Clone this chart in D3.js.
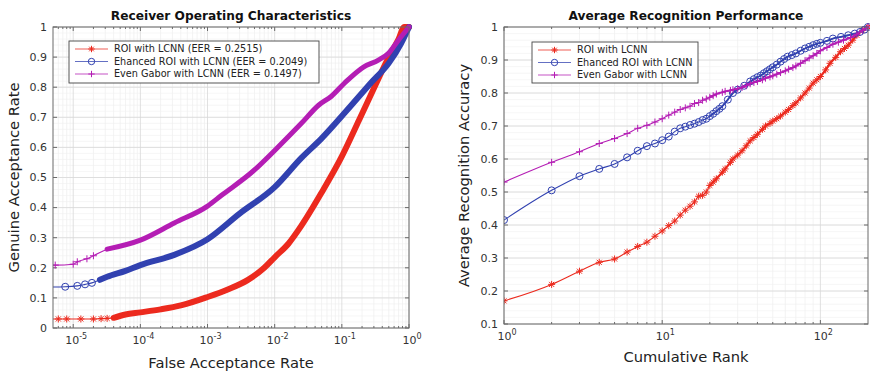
<!DOCTYPE html>
<html lang="en">
<head>
<meta charset="UTF-8">
<title>ROC and recognition performance</title>
<style>
  body { margin: 0; background: #fff; }
  svg { font-family: "DejaVu Sans", sans-serif; }
</style>
</head>
<body>
<div id="graphic"></div>
<script src="https://cdn.jsdelivr.net/npm/d3@7"></script>
<script>
// ROC curves, [false acceptance rate, genuine acceptance rate]
var rocRoi = [[4e-6,0.03],[6e-6,0.03],[8e-6,0.03],[1.3e-5,0.03],[2e-5,0.03],[2.6e-5,0.031],[3.2e-5,0.032],
  [4e-5,0.034],[6e-5,0.045],[1e-4,0.052],[2e-4,0.062],[4e-4,0.075],[1e-3,0.103],[2e-3,0.128],[4e-3,0.16],
  [7e-3,0.2],[1e-2,0.235],[1.6e-2,0.28],[2.5e-2,0.34],[5e-2,0.45],[0.1,0.57],[0.18,0.69],[0.32,0.81],
  [0.5,0.9],[0.7,0.96],[0.85,1.0],[1,1]];
var rocEnhanced = [[4e-6,0.136],[7.6e-6,0.137],[1.15e-5,0.14],[1.5e-5,0.145],[1.9e-5,0.15],[2.5e-5,0.16],
  [3.2e-5,0.17],[6e-5,0.19],[1e-4,0.209],[3.2e-4,0.243],[1e-3,0.295],[3e-3,0.38],[1e-2,0.468],
  [2.5e-2,0.565],[5e-2,0.63],[0.12,0.724],[0.27,0.814],[0.5,0.88],[0.76,0.945],[1,1]];
var rocGabor = [[4e-6,0.209],[5.4e-6,0.209],[1e-5,0.212],[1.15e-5,0.22],[1.6e-5,0.23],[2e-5,0.24],
  [3.2e-5,0.262],[1e-4,0.292],[3.2e-4,0.349],[1e-3,0.405],[1.6e-3,0.44],[5e-3,0.525],[1e-2,0.59],
  [2.5e-2,0.68],[4.5e-2,0.74],[7e-2,0.77],[0.11,0.814],[0.21,0.867],[0.35,0.89],[0.5,0.914],[0.7,0.957],[1,1]];
var rocNames = ["ROI with LCNN (EER = 0.2515)", "Ehanced ROI with LCNN (EER = 0.2049)", "Even Gabor with LCNN (EER = 0.1497)"];

// cumulative match, [rank, accuracy]
var cmcRoi = [[1,0.17],[2,0.22],[3,0.26],[4,0.287],[5,0.297],[6,0.318],[7,0.335],[8,0.348],[9,0.366],[10,0.382],
  [11,0.398],[12,0.412],[13,0.43],[14,0.445],[15,0.457],[16,0.47],[17,0.487],[18,0.49],[19,0.5],[20,0.52],
  [21,0.53],[22,0.54],[24,0.56],[25,0.57],[27,0.59],[28,0.6],[30,0.612],[32,0.625],[34,0.64],[36,0.655],
  [38,0.665],[40,0.675],[43,0.69],[45,0.7],[48,0.708],[50,0.715],[53,0.722],[56,0.73],[60,0.742],[63,0.75],
  [67,0.762],[70,0.77],[75,0.785],[80,0.8],[85,0.815],[90,0.83],[95,0.84],[100,0.85],[108,0.87],[115,0.89],
  [125,0.908],[134,0.925],[142,0.935],[150,0.945],[160,0.96],[170,0.975],[185,0.99],[200,1.0]];
var cmcEnhanced = [[1,0.415],[2,0.505],[3,0.548],[4,0.57],[5,0.585],[6,0.605],[7,0.625],[8,0.639],[9,0.647],[10,0.657],
  [11,0.668],[12,0.683],[13,0.693],[14,0.698],[15,0.703],[16,0.707],[17,0.712],[18,0.718],[19,0.722],[20,0.73],
  [21,0.737],[22,0.745],[23,0.752],[24,0.76],[26,0.78],[28,0.8],[30,0.81],[33,0.822],[36,0.835],[38,0.842],
  [40,0.848],[42,0.853],[44,0.86],[46,0.866],[48,0.872],[50,0.878],[53,0.886],[56,0.895],[59,0.903],[62,0.91],
  [66,0.915],[70,0.92],[75,0.928],[80,0.935],[85,0.94],[90,0.945],[95,0.949],[100,0.952],[110,0.958],[120,0.965],
  [135,0.97],[150,0.975],[165,0.98],[178,0.985],[190,0.992],[200,1.0]];
var cmcGabor = [[1,0.53],[2,0.59],[3,0.622],[4,0.647],[5,0.662],[6,0.677],[7,0.693],[8,0.702],[9,0.712],[10,0.722],
  [11,0.733],[12,0.742],[13,0.75],[14,0.755],[15,0.76],[16,0.768],[17,0.771],[18,0.778],[19,0.782],[20,0.787],
  [21,0.792],[22,0.797],[24,0.802],[25,0.805],[27,0.808],[28,0.81],[30,0.813],[32,0.817],[34,0.822],[36,0.828],
  [38,0.832],[40,0.835],[43,0.84],[45,0.845],[48,0.849],[50,0.852],[53,0.857],[56,0.862],[60,0.867],[63,0.872],
  [67,0.877],[70,0.882],[75,0.89],[80,0.898],[85,0.906],[90,0.913],[95,0.92],[100,0.928],[110,0.938],[120,0.948],
  [130,0.954],[140,0.96],[155,0.968],[170,0.978],[185,0.99],[200,1.0]];
var cmcNames = ["ROI with LCNN", "Ehanced ROI with LCNN", "Even Gabor with LCNN"];

var rocXTicks = [1e-5, 1e-4, 1e-3, 1e-2, 1e-1, 1];
var rocYTicks = [0, 0.1, 0.2, 0.3, 0.4, 0.5, 0.6, 0.7, 0.8, 0.9, 1];
var cmcXTicks = [1, 10, 100];
var cmcYTicks = [0.1, 0.2, 0.3, 0.4, 0.5, 0.6, 0.7, 0.8, 0.9, 1];

var colors = ["#ec2a1e", "#3141b0", "#b41db4"];
var markers = ["star", "circle", "plus"];

var width = 870, height = 373;
var svg = d3.select('#graphic').append('svg')
    .attr('width', width).attr('height', height);

function drawMarker(g, type, x, y, color, s, w) {
    w = w || 1;
    if (type == 'circle') {
        g.append('circle').attr('cx', x).attr('cy', y).attr('r', s)
            .attr('fill', 'none').attr('stroke', color).attr('stroke-width', w);
    } else {
        var d = 'M' + (x - s) + ',' + y + 'H' + (x + s) + 'M' + x + ',' + (y - s) + 'V' + (y + s);
        if (type == 'star') {
            var k = s * 0.72;
            d += 'M' + (x - k) + ',' + (y - k) + 'L' + (x + k) + ',' + (y + k) +
                 'M' + (x - k) + ',' + (y + k) + 'L' + (x + k) + ',' + (y - k);
        }
        g.append('path').attr('d', d).attr('stroke', color).attr('stroke-width', w).attr('fill', 'none');
    }
}

function expLabel(sel, v) {
    var e = Math.round(Math.log10(v));
    sel.text('10');
    sel.append('tspan').attr('dy', -5).attr('font-size', 8).text(e < 0 ? '-' + (-e) : e);
}

function panel(cfg) {
    var g = svg.append('g');
    var x = d3.scaleLog().domain(cfg.xDomain).range([cfg.left, cfg.right]);
    var y = d3.scaleLinear().domain(cfg.yDomain).range([cfg.bottom, cfg.top]);

    // minor grid
    var minorX = [];
    var lo = Math.floor(Math.log10(cfg.xDomain[0])), hi = Math.ceil(Math.log10(cfg.xDomain[1]));
    for (var d = lo; d < hi; d++) {
        for (var k = 2; k <= 9; k++) {
            var v = k * Math.pow(10, d);
            if (v > cfg.xDomain[0] && v < cfg.xDomain[1]) minorX.push(v);
        }
    }
    var minorY = d3.range(cfg.yDomain[0], cfg.yDomain[1] + 1e-9, 0.02);
    g.selectAll('.mx').data(minorX).join('line')
        .attr('x1', d => x(d)).attr('x2', d => x(d)).attr('y1', cfg.top).attr('y2', cfg.bottom)
        .attr('stroke', '#ebebeb').attr('stroke-width', 0.6);
    g.selectAll('.my').data(minorY).join('line')
        .attr('y1', d => y(d)).attr('y2', d => y(d)).attr('x1', cfg.left).attr('x2', cfg.right)
        .attr('stroke', '#f0f0f0').attr('stroke-width', 0.6);
    // major grid
    g.selectAll('.gx').data(cfg.xTicks).join('line')
        .attr('x1', d => x(d)).attr('x2', d => x(d)).attr('y1', cfg.top).attr('y2', cfg.bottom)
        .attr('stroke', '#d8d8d8').attr('stroke-width', 0.8);
    g.selectAll('.gy').data(cfg.yTicks).join('line')
        .attr('y1', d => y(d)).attr('y2', d => y(d)).attr('x1', cfg.left).attr('x2', cfg.right)
        .attr('stroke', '#d8d8d8').attr('stroke-width', 0.8);

    // ticks inside the box, all four sides
    var tc = '#6a6a6a';
    cfg.xTicks.concat(minorX).forEach(function(v) {
        var len = cfg.xTicks.indexOf(v) >= 0 ? 4 : 2;
        g.append('line').attr('x1', x(v)).attr('x2', x(v)).attr('y1', cfg.bottom).attr('y2', cfg.bottom - len).attr('stroke', tc);
        g.append('line').attr('x1', x(v)).attr('x2', x(v)).attr('y1', cfg.top).attr('y2', cfg.top + len).attr('stroke', tc);
    });
    cfg.yTicks.forEach(function(v) {
        g.append('line').attr('y1', y(v)).attr('y2', y(v)).attr('x1', cfg.left).attr('x2', cfg.left + 4).attr('stroke', tc);
        g.append('line').attr('y1', y(v)).attr('y2', y(v)).attr('x1', cfg.right).attr('x2', cfg.right - 4).attr('stroke', tc);
    });

    // tick labels
    g.selectAll('.xl').data(cfg.xTicks).join('text')
        .attr('x', d => x(d) + 3).attr('y', cfg.bottom + 16)
        .attr('text-anchor', 'middle').attr('font-size', 11).attr('fill', '#333')
        .each(function(d) { expLabel(d3.select(this), d); });
    g.selectAll('.yl').data(cfg.yTicks).join('text')
        .attr('x', cfg.left - 6).attr('y', d => y(d)).attr('dy', '0.35em')
        .attr('text-anchor', 'end').attr('font-size', 11).attr('fill', '#333')
        .text(d => d3.format('~g')(d));

    // series
    var clipId = 'clip' + cfg.id;
    g.append('clipPath').attr('id', clipId).append('rect')
        .attr('x', cfg.left).attr('y', cfg.top - 4).attr('width', cfg.right - cfg.left + 4).attr('height', cfg.bottom - cfg.top + 4);
    var sg = g.append('g').attr('clip-path', 'url(#' + clipId + ')');
    var line = d3.line().x(d => x(d[0])).y(d => y(d[1])).curve(d3.curveMonotoneX);
    cfg.series.forEach(function(s, i) {
        sg.append('path').datum(s).attr('d', line).attr('fill', 'none')
            .attr('stroke', colors[i]).attr('stroke-width', 1.1);
        var dense = s.filter(p => p[0] >= cfg.denseFrom[i]);
        sg.append('path').datum(dense).attr('d', line).attr('fill', 'none')
            .attr('stroke', colors[i]).attr('stroke-width', cfg.denseWidth[i])
            .attr('stroke-linejoin', 'round').attr('stroke-linecap', 'round');
        var marked = cfg.markAll ? s : s.filter(p => p[0] < cfg.denseFrom[i]);
        marked.forEach(function(p) {
            drawMarker(sg, markers[i], x(p[0]), y(p[1]), colors[i], 3.5);
        });
    });

    // box
    g.append('rect').attr('x', cfg.left).attr('y', cfg.top)
        .attr('width', cfg.right - cfg.left).attr('height', cfg.bottom - cfg.top)
        .attr('fill', 'none').attr('stroke', tc).attr('stroke-width', 1);

    // legend
    var L = cfg.legend;
    var lg = g.append('g');
    lg.append('rect').attr('x', L.x).attr('y', L.y).attr('width', L.w).attr('height', L.h)
        .attr('fill', '#fff').attr('stroke', '#444').attr('stroke-width', 0.9);
    cfg.names.forEach(function(n, i) {
        var ly = L.y + 8 + i * 12.5;
        lg.append('line').attr('x1', L.x + 6).attr('x2', L.x + 39).attr('y1', ly).attr('y2', ly)
            .attr('stroke', colors[i]).attr('stroke-width', 1.1).attr('opacity', 0.75);
        drawMarker(lg, markers[i], L.x + 22.5, ly, colors[i], 3.2);
        lg.append('text').attr('x', L.x + 45).attr('y', ly).attr('dy', '0.35em')
            .attr('font-size', 9.7).attr('fill', '#222').text(n);
    });

    // titles
    var cx = (cfg.left + cfg.right) / 2;
    g.append('text').attr('x', cx).attr('y', 20).attr('text-anchor', 'middle')
        .attr('font-size', 12.2).attr('font-weight', 'bold').attr('fill', '#111').text(cfg.title);
    g.append('text').attr('x', cx).attr('y', cfg.xLabelY).attr('text-anchor', 'middle')
        .attr('font-size', 14.7).attr('fill', '#222').text(cfg.xLabel);
    g.append('text').attr('transform', 'translate(' + cfg.yLabelX + ',' + ((cfg.top + cfg.bottom) / 2) + ') rotate(-90)')
        .attr('text-anchor', 'middle').attr('font-size', 14.7).attr('fill', '#222').text(cfg.yLabel);
}

panel({
    id: 'roc', left: 53, right: 409, top: 27, bottom: 328,
    xDomain: [5e-6, 1], yDomain: [0, 1], xTicks: rocXTicks, yTicks: rocYTicks,
    series: [rocRoi, rocEnhanced, rocGabor], names: rocNames,
    denseFrom: [4e-5, 2.5e-5, 2.5e-5], denseWidth: [6, 6, 5], markAll: false,
    legend: {x: 69, y: 41, w: 250, h: 42},
    title: 'Receiver Operating Characteristics',
    xLabel: 'False Acceptance Rate', xLabelY: 368,
    yLabel: 'Genuine Acceptance Rate', yLabelX: 19
});

panel({
    id: 'cmc', left: 504, right: 868, top: 27, bottom: 324,
    xDomain: [1, 200], yDomain: [0.1, 1], xTicks: cmcXTicks, yTicks: cmcYTicks,
    series: [cmcRoi, cmcEnhanced, cmcGabor], names: cmcNames,
    denseFrom: [20, 20, 20], denseWidth: [2.2, 1.8, 1.8], markAll: true,
    legend: {x: 532, y: 42, w: 166, h: 41},
    title: 'Average Recognition Performance',
    xLabel: 'Cumulative Rank', xLabelY: 362,
    yLabel: 'Average Recognition Accuracy', yLabelX: 469
});
</script>
</body>
</html>
